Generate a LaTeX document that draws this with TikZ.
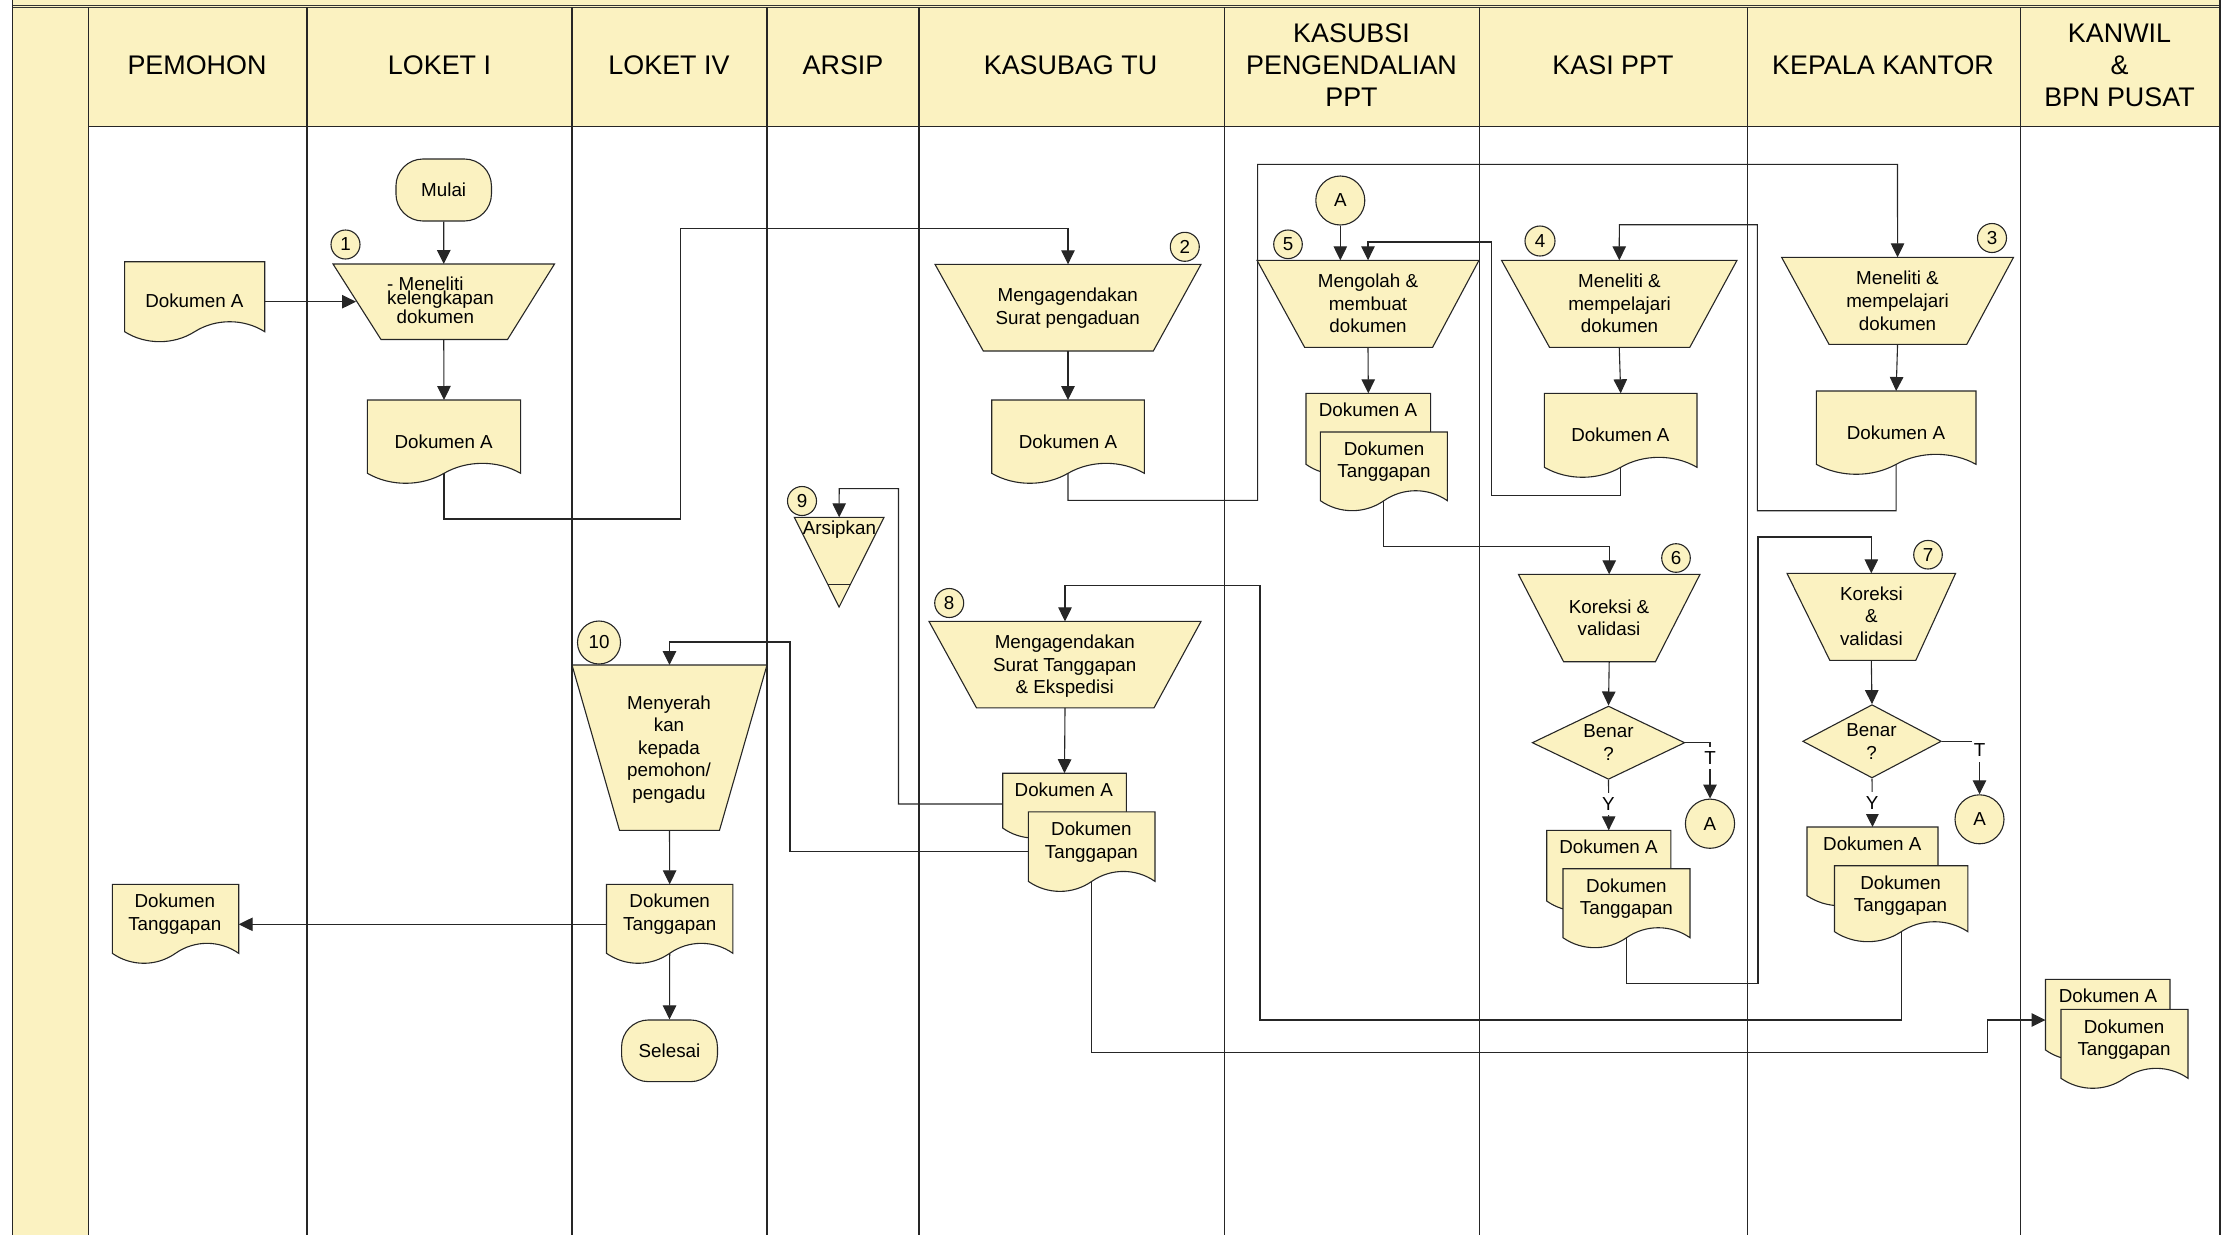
\documentclass[tikz,border=0pt]{standalone}
\usepackage{fontspec}
\setmainfont{Liberation Sans}
\usetikzlibrary{arrows.meta,shapes.geometric,calc}
\definecolor{swim}{HTML}{FBF2C1}
\tikzset{
  lane/.style={line width=1.5pt,draw=black!85},
  shp/.style={draw=black!85,fill=swim,line width=1.1pt},
  slot/.style={inner sep=0pt,outer sep=0pt},
  txt/.style={inner sep=0pt,align=center,text=black,font=\fontsize{18.8}{22.6}\selectfont},
  head/.style={inner sep=0pt,align=center,text=black,font=\fontsize{26.9}{32}\selectfont},
  circ/.style={shp,circle,inner sep=0pt,font=\fontsize{18.8}{22.6}\selectfont},
  term/.style={shp,rectangle,rounded corners=27pt,inner sep=0pt,minimum width=95.5pt,minimum height=62pt,font=\fontsize{18.8}{22.6}\selectfont},
  dec/.style={shp,diamond,inner sep=0pt},
  conn/.style={line width=1.1pt,draw=black!85},
  arr/.style={conn,-{Triangle[length=14pt,width=13.5pt]}},
  tag/.style={fill=white,inner sep=0pt,minimum width=15pt,minimum height=22pt,font=\fontsize{18.8}{22.6}\selectfont},
}
% name, x0, yt, x1, yb, tx, ty, text
\newcommand{\docu}[8]{%
  \pgfmathsetmacro\dw{#4-#2}%
  \pgfmathsetmacro\dh{#5-#3}%
  \node[slot,anchor=north west,minimum width=\dw pt,minimum height=\dh pt] (#1) at (#2,#3) {};
  \draw[shp] (#2,#3) -- (#4,#3) -- (#4,#5)
    .. controls ({#4-.15*\dw},{#5-13.3}) and ({#4-.35*\dw},{#5-13.3}) .. ({#2+.5*\dw},#5)
    .. controls ({#2+.35*\dw},{#5+13.3}) and ({#2+.15*\dw},{#5+13.3}) .. (#2,#5) -- cycle;
  \node[txt] (#1 t) at (#6,#7) {#8};
}
% name, xl, xr, bl, br, yt, yb
\newcommand{\trap}[7]{%
  \pgfmathsetmacro\dw{#3-#2}%
  \pgfmathsetmacro\dh{#7-#6}%
  \node[slot,anchor=north west,minimum width=\dw pt,minimum height=\dh pt] (#1) at (#2,#6) {};
  \draw[shp] (#2,#6) -- (#3,#6) -- (#5,#7) -- (#4,#7) -- cycle;
}
\begin{document}
\begin{tikzpicture}[x=1pt,y=-1pt]
\useasboundingbox (0,0) rectangle (2236,1235);
% frame
\fill[swim] (12.7,0) rectangle (2220,7);
\fill[swim] (12.7,0) rectangle (88.3,1235);
\fill[swim] (88.3,7) rectangle (2220,126.5);
\draw[line width=1pt,draw=black!80] (12.7,5.2) -- (2220,5.2);
\draw[line width=1pt,draw=black!80] (12.7,7.4) -- (2220,7.4);
\draw[lane] (12.7,0) -- (12.7,1235);
\draw[lane] (2220,0) -- (2220,1235);
\draw[lane] (88.3,7) -- (88.3,1235);
\draw[lane] (307,7) -- (307,1235);
\draw[lane] (572,7) -- (572,1235);
\draw[lane] (767,7) -- (767,1235);
\draw[lane] (919,7) -- (919,1235);
\draw[lane] (1224.3,7) -- (1224.3,1235);
\draw[lane] (1479.7,7) -- (1479.7,1235);
\draw[lane] (1747.5,7) -- (1747.5,1235);
\draw[lane] (2020.5,7) -- (2020.5,1235);
\draw[lane] (88.3,126.5) -- (2220,126.5);
% headers
\node[head] (h1) at (197,65.5) {PEMOHON};
\node[head] (h2) at (439.5,65.5) {LOKET I};
\node[head] (h3) at (669,65.5) {LOKET IV};
\node[head] (h4) at (843,65.5) {ARSIP};
\node[head] (h5) at (1070.5,65.5) {KASUBAG TU};
\node[head] (h6) at (1351.5,65.5) {KASUBSI\\PENGENDALIAN\\PPT};
\node[head] (h7) at (1613,65.5) {KASI PPT};
\node[head] (h8) at (1883,65.5) {KEPALA KANTOR};
\node[head] (h9) at (2119.5,65.5) {KANWIL\\\&\\BPN PUSAT};
% LOKET I
\node[term] (mulai) at (443.7,190) {Mulai};
\node[circ,minimum size=29pt] (c1) at (345.5,244.5) {1};
\trap{t1}{333}{554.5}{381}{507.5}{264}{339.5}
\node[txt,anchor=west,align=left,font=\fontsize{18.8}{14.3}\selectfont] (t1 t) at (387,300) {- Meneliti\\kelengkapan\\\hspace*{9.5pt}dokumen};
\coordinate (t1in) at (356,301.7);
\docu{d2}{367.4}{400}{520.6}{473.3}{443.7}{441.7}{Dokumen A}
% PEMOHON
\docu{d1}{124.6}{261.7}{264.7}{331.7}{194.4}{300.7}{Dokumen A}
\docu{d11}{112.3}{884.3}{238.7}{953.3}{174.8}{914.2}{Dokumen\\Tanggapan}
\coordinate (k10) at (606.5,924.3);
% LOKET IV
\node[circ,minimum size=43pt] (c10) at (599,642.5) {10};
\trap{t10}{572}{767}{619.5}{719.5}{665}{830.3}
\node[txt] (t10 t) at (669,749.5) {Menyerah\\kan\\kepada\\pemohon/\\pengadu};
\docu{d10}{606.5}{884.3}{732.9}{953.3}{669.7}{914.2}{Dokumen\\Tanggapan}
\node[term,minimum width=95.9pt,minimum height=61.7pt] (selesai) at (669.5,1050.8) {Selesai};
% ARSIP
\node[circ,minimum size=29pt] (c9) at (802,501) {9};
\trap{tri}{794.3}{884}{839.1}{839.1}{517.3}{607}
\draw[shp] (827.7,584.3) -- (851,584.3);
\node[txt] (tri t) at (839.4,529.6) {Arsipkan};
% KASUBAG TU
\node[circ,minimum size=29pt] (c2) at (1184.8,246.8) {2};
\trap{t2}{935}{1201}{983.3}{1153.3}{264.3}{351}
\node[txt] (t2 t) at (1067.7,308.2) {Mengagendakan\\Surat pengaduan};
\docu{d3}{991.7}{400}{1144.3}{473.3}{1068}{441.7}{Dokumen A}
\node[circ,minimum size=29pt] (c8) at (949.2,603) {8};
\trap{t8}{929}{1201}{976.5}{1154}{621.4}{707.9}
\node[txt] (t8 t) at (1064.8,666.5) {Mengagendakan\\Surat Tanggapan\\\& Ekspedisi};
\docu{d8a}{1002.7}{773.2}{1126.3}{828}{1063.8}{789.6}{Dokumen A}
\docu{d8b}{1028.4}{811.8}{1155}{881.4}{1091.4}{842}{Dokumen\\Tanggapan}
\coordinate (k8a) at (1002.7,804);
\coordinate (k8b) at (1028.4,851.8);
% KASUBSI
\node[circ,minimum size=49pt] (ca) at (1340.3,200.5) {A};
\node[circ,minimum size=28.6pt] (c5) at (1288,244.3) {5};
\trap{t5}{1257}{1479}{1304.6}{1432.6}{260.3}{347.3}
\node[txt] (t5 t) at (1368,303.3) {Mengolah \&\\membuat\\dokumen};
\docu{d5a}{1306}{393.3}{1430.6}{464.3}{1368}{409.3}{Dokumen A}
\docu{d5b}{1320.4}{432}{1447.4}{500.7}{1384}{461.7}{Dokumen\\Tanggapan}
% KASI PPT
\node[circ,minimum size=30pt] (c4) at (1540,241) {4};
\trap{t4}{1501.5}{1737}{1549.5}{1689.8}{260.3}{347.3}
\node[txt] (t4 t) at (1619.5,303.3) {Meneliti \&\\mempelajari\\dokumen};
\docu{d4}{1544.4}{393.3}{1697}{467.3}{1620.4}{434.7}{Dokumen A}
\node[circ,minimum size=28.6pt] (c6) at (1676,558) {6};
\trap{t6}{1518.4}{1700}{1563.6}{1655.4}{574.3}{661.7}
\node[txt] (t6 t) at (1609,617.8) {Koreksi \&\\validasi};
\node[dec,aspect=2.08,minimum width=152.6pt,minimum height=73.3pt] (q1) at (1608.5,742.7) {};
\node[txt] (q1 t) at (1608.5,742.5) {Benar\\?};
\node[circ,minimum size=49.2pt] (a1) at (1710,823.7) {A};
\docu{d6a}{1546.7}{830.3}{1670.8}{901}{1608.5}{846.7}{Dokumen A}
\docu{d6b}{1563}{868.7}{1690}{937.7}{1626.4}{898.7}{Dokumen\\Tanggapan}
% KEPALA KANTOR
\node[circ,minimum size=29pt] (c3) at (1992,238) {3};
\trap{t3}{1781.6}{2013.5}{1829}{1966.8}{257.3}{344.3}
\node[txt] (t3 t) at (1897.5,300.8) {Meneliti \&\\mempelajari\\dokumen};
\docu{d7}{1816.3}{391}{1976}{464.3}{1896}{432.7}{Dokumen A}
\node[circ,minimum size=28.6pt] (c7) at (1928,554.7) {7};
\trap{t7}{1787}{1955.6}{1829.8}{1915.8}{573.3}{660.3}
\node[txt] (t7 t) at (1871.4,616) {Koreksi\\\&\\validasi};
\node[dec,aspect=1.89,minimum width=138.6pt,minimum height=73.3pt] (q2) at (1872,741.3) {};
\node[txt] (q2 t) at (1871.5,741.5) {Benar\\?};
\node[circ,minimum size=49pt] (a2) at (1979.5,819.3) {A};
\docu{d9a}{1807}{827}{1938}{895.7}{1872.3}{843.5}{Dokumen A}
\docu{d9b}{1834.5}{865.7}{1967.9}{931.7}{1900.5}{895.5}{Dokumen\\Tanggapan}
% KANWIL
\docu{d12a}{2045.5}{979.3}{2170}{1050}{2108}{995.7}{Dokumen A}
\docu{d12b}{2061}{1009.3}{2188}{1078.3}{2124}{1039.7}{Dokumen\\Tanggapan}
% connectors
\draw[arr] (mulai.south) -- (t1.north);
\draw[arr] (d1.east |- t1in) -- (t1in);
\draw[arr] (t1.south) -- (d2.north);
\draw[arr] (d2.south) |- (680.6,519) |- (1068,228.7) -- (t2.north);
\draw[arr] (t2.south) -- (d3.north);
\draw[arr] (d3.south) |- (1257.6,500.3) |- (1897.5,164.3) -- (t3.north);
\draw[arr] (ca.south) -- (ca.south |- t5.north);
\draw[arr] (d4.south) |- (1491.8,495.7) |- (1368,242) -- (t5.north);
\draw[arr] (t5.south) -- (d5a.north);
\draw[arr] (t4.south) -- (d4.north);
\draw[arr] (d7.south) |- (1757.3,510.7) |- (1619.3,224.7) -- (t4.north);
\draw[arr] (t3.south) -- (d7.north);
\draw[arr] (d5b.south) |- (1609.2,546.7) -- (t6.north);
\draw[arr] (t6.south) -- (q1.north);
\draw[arr] (q1.south) -- (d6a.north);
\draw[arr] (q1.east) -| (a1.north);
\node[tag] (ty1) at (1608.5,804) {Y};
\node[tag] (tt1) at (1710,758) {T};
\draw[arr] (d6b.south) |- (1758,983.3) |- (1871.3,537) -- (t7.north);
\draw[arr] (t7.south) -- (q2.north);
\draw[arr] (q2.south) -- (d9a.north);
\draw[arr] (q2.east) -| (a2.north);
\node[tag] (ty2) at (1872,802.7) {Y};
\node[tag] (tt2) at (1979.5,750.5) {T};
\draw[arr] (d9b.south) |- (1260,1020) |- (1065,585.4) -- (t8.north);
\draw[arr] (t8.south) -- (d8a.north);
\draw[arr] (k8a) -- (898.5,804) |- (839.2,488.6) -- (tri.north);
\draw[arr] (k8b) -- (790,851.8) |- (669.5,642) -- (t10.north);
\draw[arr] (d8b.south) |- (1987.2,1052.3) |- (d12a.west |- 0,1020);
\draw[arr] (t10.south) -- (d10.north);
\draw[arr] (d10.south) -- (selesai.north);
\draw[arr] (k10) -- (d11.east |- k10);
\end{tikzpicture}
\end{document}
